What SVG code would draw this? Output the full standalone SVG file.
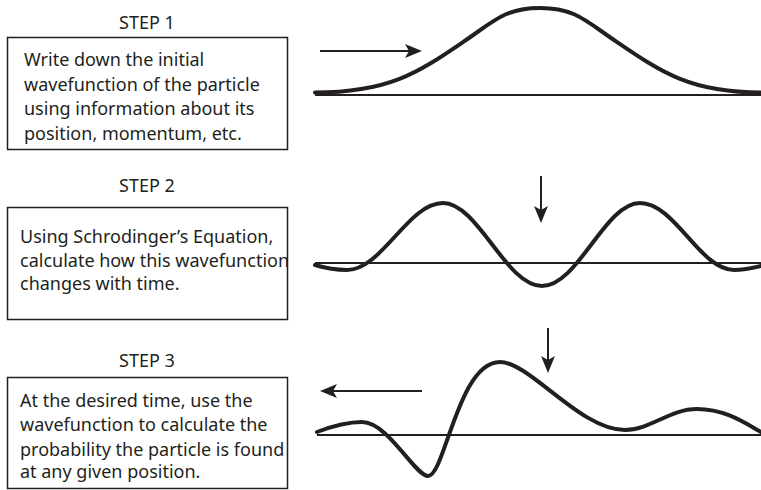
<svg xmlns="http://www.w3.org/2000/svg" width="761" height="490" viewBox="0 0 761 490">
<style>
  .title { font-family: "Noto Sans", "Liberation Sans", sans-serif; font-size: 18px; fill: #231f20; text-anchor: middle; }
  .body { font-family: "Noto Sans", "Liberation Sans", sans-serif; font-size: 18px; fill: #231f20; }
  .box { fill: #ffffff; stroke: #231f20; stroke-width: 1.5; }
  .axis { stroke: #231f20; stroke-width: 2; fill: none; }
  .wave { stroke: #231f20; stroke-width: 4; fill: none; stroke-linecap: round; stroke-linejoin: round; }
  .arrow { stroke: #231f20; stroke-width: 2; fill: none; marker-end: url(#ah); }
</style>
<defs>
  <marker id="ah" viewBox="0 -8 18 16" refX="4" refY="0" markerWidth="18" markerHeight="16" markerUnits="userSpaceOnUse" orient="auto">
    <path d="M17,0 L0,-7 L4,0 L0,7 Z" fill="#231f20"/>
  </marker>
</defs>
<rect width="761" height="490" fill="#ffffff"/>

<g id="step1">
  <text class="title" x="147" y="29">STEP 1</text>
  <rect class="box" x="7.5" y="37.5" width="280" height="112"/>
  <text class="body" x="24" y="66">Write down the initial</text>
  <text class="body" x="24" y="90.5">wavefunction of the particle</text>
  <text class="body" x="24" y="115">using information about its</text>
  <text class="body" x="24" y="139.5">position, momentum, etc.</text>
</g>

<g id="step2">
  <text class="title" x="147" y="192">STEP 2</text>
  <rect class="box" x="7.5" y="207.5" width="280" height="112"/>
  <text class="body" x="20" y="243">Using Schrodinger’s Equation,</text>
  <text class="body" x="20" y="266.5">calculate how this wavefunction</text>
  <text class="body" x="20" y="290">changes with time.</text>
</g>

<g id="step3">
  <text class="title" x="147" y="367">STEP 3</text>
  <rect class="box" x="7.5" y="377.5" width="280" height="111"/>
  <text class="body" x="20" y="407">At the desired time, use the</text>
  <text class="body" x="20" y="431">wavefunction to calculate the</text>
  <text class="body" x="20" y="455.5">probability the particle is found</text>
  <text class="body" x="20" y="478">at any given position.</text>
</g>

<g id="wave1">
  <line class="axis" x1="315" y1="95" x2="761" y2="95"/>
  <path class="wave" d="M315,92.5 C390,92.5 419,71.9 464,41.4 C494,21.1 505,8 540,8 C575,8 586,21.1 616,41.4 C661,71.9 690,92.5 761,92.5"/>
</g>

<g id="wave2">
  <line class="axis" x1="315" y1="263" x2="761" y2="263"/>
  <path class="wave" d="M315,265 C325,268 335,270 347,270 C382,270 408,203 443,203 C478,203 506,286 542,286 C578,286 605,203 640,203 C675,203 700,270 734,270 C745,270 753,268 761,266"/>
</g>

<g id="wave3">
  <line class="axis" x1="317" y1="435" x2="761" y2="435"/>
  <path class="wave" d="M317,432 C330,427 345,422 362,422 C388,422 415,476 428,476 C445,476 458,362 500,362 C530,362 580,430 625,430 C650,430 670,409 697,409 C725,409 745,423 761,432"/>
</g>

<g id="connectors">
  <line class="arrow" x1="320" y1="51" x2="409" y2="51"/>
  <line class="arrow" x1="541" y1="176" x2="541" y2="210"/>
  <line class="arrow" x1="548" y1="328" x2="548" y2="360"/>
  <line class="arrow" x1="422" y1="391" x2="333" y2="391"/>
</g>
</svg>
